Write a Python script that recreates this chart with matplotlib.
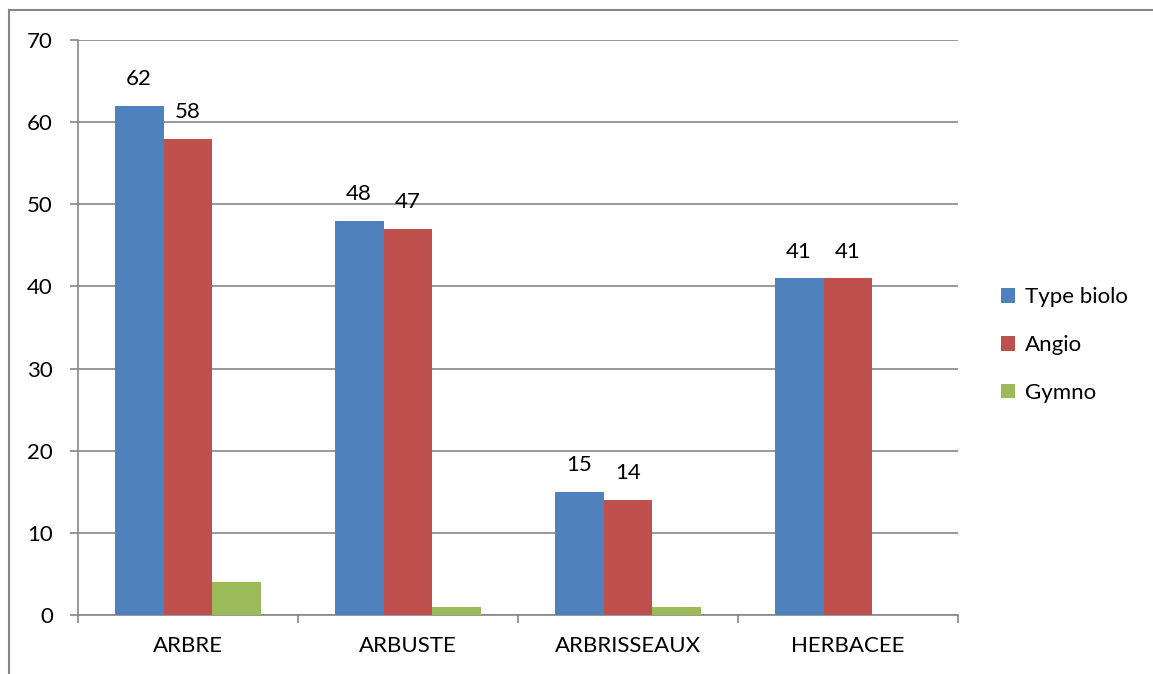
import matplotlib.pyplot as plt
import numpy as np
from matplotlib.patches import Rectangle

categories = ['ARBRE', 'ARBUSTE', 'ARBRISSEAUX', 'HERBACEE']
type_biolo = [62, 48, 15, 41]
angio = [58, 47, 14, 41]
gymno = [4, 1, 1, 0]

series = [('Type biolo', type_biolo, '#4F81BD', True),
          ('Angio', angio, '#C0504D', True),
          ('Gymno', gymno, '#9BBB59', False)]

plt.rcParams['font.family'] = ['Lato', 'DejaVu Sans']
grid_color = '#868686'
fs = 16

fig = plt.figure(figsize=(11.53, 6.74), dpi=100)
ax = fig.add_axes([78 / 1153, 1 - 615 / 674, 880 / 1153, 575 / 674])

# outer chart frame (cut at right and bottom like the reference)
fig.patches.append(Rectangle((9 / 1153, -0.1), 1.2, 1.1 - 10 / 674, transform=fig.transFigure,
                             fill=False, edgecolor=grid_color, linewidth=1.5))

x = np.arange(len(categories))
width = 1 / 4.5
for i, (name, vals, color, labelled) in enumerate(series):
    pos = x + (i - 1) * width
    bars = ax.bar(pos, vals, width=width, color=color, label=name, zorder=3)
    if labelled:
        for p, v in zip(pos, vals):
            ax.annotate(str(v), (p, v), xytext=(0, 12), textcoords='offset points',
                        ha='center', va='bottom', fontsize=fs)

ax.set_xlim(-0.5, len(categories) - 0.5)
ax.set_ylim(0, 70)
ax.set_yticks(np.arange(0, 71, 10))
ax.yaxis.grid(True, color=grid_color, linewidth=1.2, zorder=0)
ax.tick_params(axis='y', length=6, color=grid_color, width=1.2, labelsize=fs, pad=12)

ax.set_xticks(np.arange(-0.5, len(categories), 1))
ax.set_xticklabels([])
ax.set_xticks(x, minor=True)
ax.set_xticklabels(categories, minor=True)
ax.tick_params(axis='x', which='major', length=6, color=grid_color, width=1.2)
ax.tick_params(axis='x', which='minor', length=0, labelsize=fs, pad=15)

for side in ['top', 'right']:
    ax.spines[side].set_visible(False)
for side in ['left', 'bottom']:
    ax.spines[side].set_color(grid_color)
    ax.spines[side].set_linewidth(1.2)

ax.legend(loc='center left', bbox_to_anchor=(992 / 1153, 1 - 345 / 674), bbox_transform=fig.transFigure,
          frameon=False, fontsize=fs, handlelength=0.65, handleheight=0.65, handletextpad=0.45,
          labelspacing=1.25, borderaxespad=0)

plt.savefig('out.png', dpi=100)
